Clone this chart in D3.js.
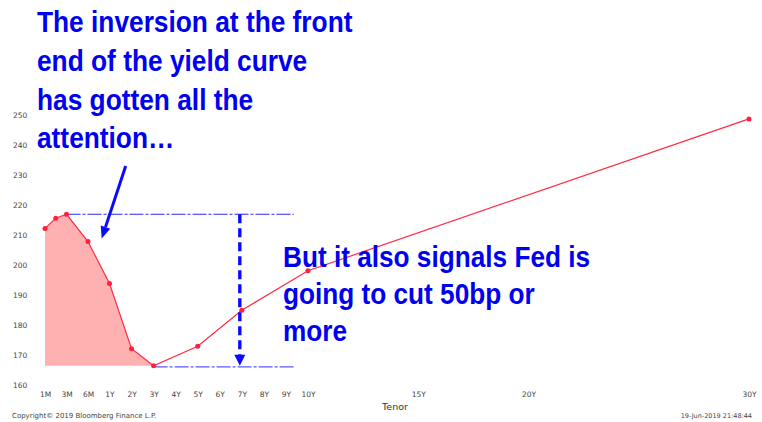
<!DOCTYPE html>
<html><head><meta charset="utf-8">
<script src="https://cdn.jsdelivr.net/npm/d3@7/dist/d3.min.js"></script>
<style>
html,body{margin:0;padding:0;background:#fff;}
svg{display:block;}
</style></head>
<body><svg id="c" width="762" height="422"></svg>
<script>
// ---- data ----
const tenorLabels = ["1M","2M","3M","6M","1Y","2Y","3Y","5Y","7Y","10Y","30Y"];
const tenorYears  = [1/12, 2/12, 0.25, 0.5, 1, 2, 3, 5, 7, 10, 30];
const yields      = [212.2, 215.6, 216.9, 207.8, 193.8, 172.1, 166.4, 172.9, 184.9, 198.1, 248.7];
const xTickLabels = ["1M","3M","6M","1Y","2Y","3Y","4Y","5Y","6Y","7Y","8Y","9Y","10Y","15Y","20Y","30Y"];
const xTickYears  = [1/12, 0.25, 0.5, 1, 2, 3, 4, 5, 6, 7, 8, 9, 10, 15, 20, 30];
const yTicks      = [160,170,180,190,200,210,220,230,240,250];
const note1 = ["The inversion at the front","end of the yield curve","has gotten all the","attention\u2026"];
const note2 = ["But it also signals Fed is","going to cut 50bp or","more"];

const svg = d3.select("#c");
const x = d3.scaleLinear().domain([1/12, 0.25, 0.5, 1, 30]).range([45, 66.5, 88, 109.5, 749]);
const y = d3.scaleLinear().domain([160, 250]).range([385, 115]);

const pts = tenorYears.map((t,i)=>({t, v:yields[i], l:tenorLabels[i]}));
const iMin = d3.minIndex(yields.slice(0,7));
const iMax = d3.maxIndex(yields.slice(0,7));
const vMin = yields[iMin], vMax = yields[iMax];

// fill area (front-end inversion)
svg.append("path")
  .datum(pts.slice(0, iMin+1))
  .attr("fill", "#ffb0b0")
  .attr("d", d3.area().x(d=>x(d.t)).y0(y(vMin)).y1(d=>y(d.v)));

// axis labels
const gx = svg.append("g").attr("transform","translate(0,395)")
  .call(d3.axisBottom(x).tickValues(xTickYears).tickFormat((d,i)=>xTickLabels[i]).tickSize(0).tickPadding(0));
gx.select(".domain").remove();
gx.selectAll("text").attr("font-family","Tahoma, 'DejaVu Sans', sans-serif").attr("font-size","7.5px").attr("fill","#444").attr("dy","0.32em");

const gy = svg.append("g").attr("transform","translate(13,0)")
  .call(d3.axisLeft(y).tickValues(yTicks).tickSize(0).tickPadding(0));
gy.select(".domain").remove();
gy.selectAll("text").attr("font-family","Tahoma, 'DejaVu Sans', sans-serif").attr("font-size","7.5px").attr("fill","#444").attr("text-anchor","start").attr("dy","0.32em");

// dash-dot horizontal lines
const xEnd = x(7) + 52;
svg.append("line").attr("x1", x(tenorYears[iMax])).attr("x2", xEnd)
  .attr("y1", y(vMax)).attr("y2", y(vMax))
  .attr("stroke","#2a2aff").attr("stroke-width",1.1).attr("stroke-dasharray","14,2,3,2");
svg.append("line").attr("x1", x(tenorYears[iMin])).attr("x2", xEnd)
  .attr("y1", y(vMin)+1).attr("y2", y(vMin)+1)
  .attr("stroke","#5a5aff").attr("stroke-width",1.3).attr("stroke-dasharray","14,2,3,2");

// curve
svg.append("path").datum(pts)
  .attr("fill","none").attr("stroke","#ff2a45").attr("stroke-width",1.2)
  .attr("d", d3.line().x(d=>x(d.t)).y(d=>y(d.v)));
svg.selectAll("circle.pt").data(pts).enter().append("circle")
  .attr("class","pt").attr("cx",d=>x(d.t)).attr("cy",d=>y(d.v)).attr("r",2.5).attr("fill","#ff2040");

// vertical dashed arrow
const ax = x(7) - 2;
svg.append("line").attr("x1",ax).attr("x2",ax).attr("y1",y(vMax)).attr("y2",y(vMin)-10)
  .attr("stroke","#0a0aff").attr("stroke-width",3.4).attr("stroke-dasharray","9,5");
svg.append("path")
  .attr("d",`M${ax-5.5},${y(vMin)-11} L${ax+5.5},${y(vMin)-11} L${ax},${y(vMin)} Z`)
  .attr("fill","#0a0aff");

// pointer arrow
const p0=[125.7,166], p1=[101.7,238.5];
const ang = Math.atan2(p1[1]-p0[1], p1[0]-p0[0]);
const hl=12, hw=5;
const bx = p1[0]-hl*Math.cos(ang), by = p1[1]-hl*Math.sin(ang);
svg.append("line").attr("x1",p0[0]).attr("y1",p0[1]).attr("x2",bx).attr("y2",by)
  .attr("stroke","#0a0aff").attr("stroke-width",3);
svg.append("path").attr("d",
  `M${p1[0]},${p1[1]} L${bx+hw*Math.sin(ang)},${by-hw*Math.cos(ang)} L${bx-hw*Math.sin(ang)},${by+hw*Math.cos(ang)} Z`)
  .attr("fill","#0a0aff");

// annotations
function note(lines, x0, y0, step, fs, sy){
  const g = svg.append("g");
  lines.forEach((t,i)=>{
    g.append("text").attr("transform",`translate(${x0},${y0+i*step}) scale(1,${sy})`)
      .attr("font-family","'Liberation Sans', Arial, sans-serif").attr("font-weight","bold")
      .attr("font-size",fs+"px").attr("fill","#0000f0").text(t);
  });
}
note(note1, 37, 32, 38.8, 26.3, 1.14);
note(note2, 283, 267, 37.2, 26.2, 1.1);

// footer texts
svg.append("text").attr("x",395).attr("y",410).attr("text-anchor","middle")
  .attr("font-family","Tahoma, 'DejaVu Sans', sans-serif").attr("font-size","9.5px").attr("fill","#333").text("Tenor");
svg.append("text").attr("x",12).attr("y",418)
  .attr("font-family","Tahoma, 'DejaVu Sans', sans-serif").attr("font-size","7px").attr("fill","#444").text("Copyright\u00a9 2019 Bloomberg Finance L.P.");
svg.append("text").attr("x",752).attr("y",418).attr("text-anchor","end")
  .attr("font-family","Tahoma, 'DejaVu Sans', sans-serif").attr("font-size","6.5px").attr("fill","#444").text("19-Jun-2019 21:48:44");
</script></body></html>
